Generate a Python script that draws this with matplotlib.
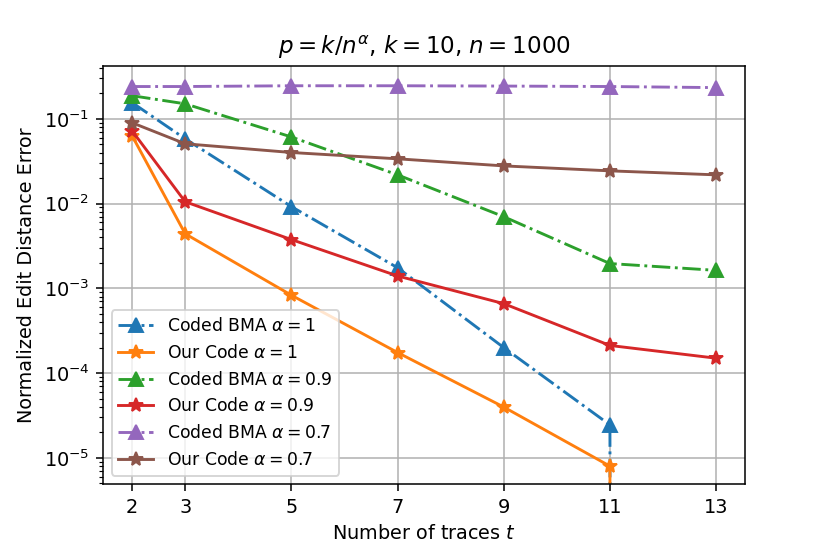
import numpy as np
import matplotlib
matplotlib.use('Agg')
import matplotlib.pyplot as plt

traces = [2, 3, 5, 7, 9, 11, 13]

# zeros at t=13 are clipped by the log scale (line drops off the axes)
bma_a1 = [0.155, 0.058, 0.0092, 0.00175, 2.0e-4, 2.45e-5, 0.0]
our_a1 = [0.063, 0.0044, 8.3e-4, 1.75e-4, 3.98e-5, 8.0e-6, 0.0]
bma_a09 = [0.187, 0.150, 0.061, 0.0218, 0.0070, 0.00196, 0.00163]
our_a09 = [0.072, 0.0105, 0.00376, 0.0014, 6.6e-4, 2.12e-4, 1.5e-4]
bma_a07 = [0.24, 0.24, 0.245, 0.245, 0.243, 0.24, 0.233]
our_a07 = [0.0897, 0.0507, 0.040, 0.0337, 0.0278, 0.0243, 0.0218]

fig = plt.figure(figsize=(6, 4.005))
ax = fig.add_subplot(111)
fig.subplots_adjust(left=0.124, right=0.898, top=0.881, bottom=0.126)

ms = 7.5
ax.plot(traces, bma_a1, '-.^', color='tab:blue', ms=ms, label=r'Coded BMA $\alpha=1$')
ax.plot(traces, our_a1, '-*', color='tab:orange', ms=ms, label=r'Our Code $\alpha=1$')
ax.plot(traces, bma_a09, '-.^', color='tab:green', ms=ms, label=r'Coded BMA $\alpha=0.9$')
ax.plot(traces, our_a09, '-*', color='tab:red', ms=ms, label=r'Our Code $\alpha=0.9$')
ax.plot(traces, bma_a07, '-.^', color='tab:purple', ms=ms, label=r'Coded BMA $\alpha=0.7$')
ax.plot(traces, our_a07, '-*', color='tab:brown', ms=ms, label=r'Our Code $\alpha=0.7$')

ax.set_yscale('log')
ax.set_ylim(4.9e-6, 0.42)
ax.set_xticks(traces)
ax.grid(True)
ax.set_xlabel(r'Number of traces $t$')
ax.set_ylabel('Normalized Edit Distance Error')
ax.set_title(r'$p=k/n^{\alpha}$, $k=10$, $n=1000$', fontsize=12)
ax.legend(loc='lower left', fontsize=9)

plt.savefig('out.png', dpi=138.33)
